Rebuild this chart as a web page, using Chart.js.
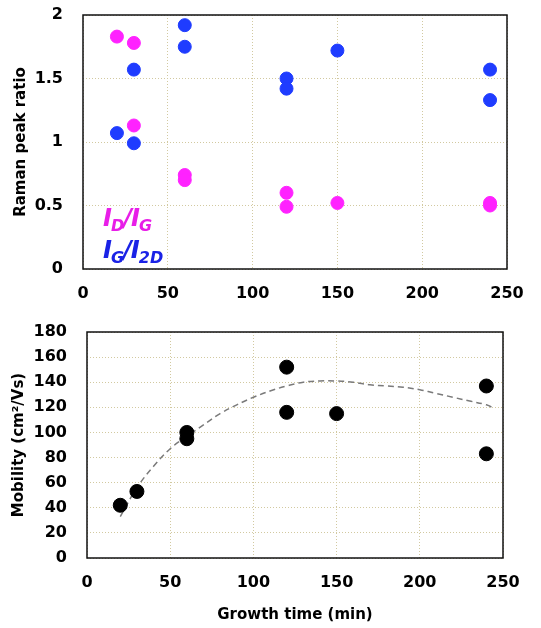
<!DOCTYPE html>
<html>
<head>
<meta charset="utf-8">
<script src="https://cdn.jsdelivr.net/npm/chart.js@4.4.0/dist/chart.umd.min.js"></script>
<style>
  body { margin: 0; background: #fff; }
  #top { position: absolute; left: 0; top: 0; width: 541px; height: 305px; }
  #bot { position: absolute; left: 0; top: 305px; width: 541px; height: 323px; }
</style>
</head>
<body>
<div id="top"><canvas id="ramanChart"></canvas></div>
<div id="bot"><canvas id="mobChart"></canvas></div>
<script>
// growth time (min) for each Raman measurement
const ramanTime = [20, 30, 30, 60, 60, 120, 120, 150, 240, 240];
const idIg = [1.83, 1.78, 1.13, 0.74, 0.70, 0.60, 0.49, 0.52, 0.52, 0.50];
const igI2d = [1.07, 0.99, 1.57, 1.92, 1.75, 1.50, 1.42, 1.72, 1.57, 1.33];

// mobility measurements
const mobTime = [20, 30, 60, 60, 120, 120, 150, 240, 240];
const mobility = [42, 53, 100, 95, 152, 116, 115, 137, 83];

// dashed trend line
const trendTime = [20, 30, 40, 50, 60, 70, 80, 90, 100, 110, 120, 130, 140, 150, 160, 170, 180, 190, 200, 210, 220, 230, 240, 245];
const trendMob = [33, 56, 73, 87, 97, 106, 115, 122, 128, 133, 137, 140, 141, 141, 140, 138, 137, 136, 134, 131, 128, 125, 122, 119];

const xTicks = [0, 50, 100, 150, 200, 250];

const FONT = "'DejaVu Sans', Verdana, sans-serif";
const gridColor = '#d2c9a0';

function pts(xs, ys) {
    return xs.map((x, i) => ({ x: x, y: ys[i] }));
}

// box around the plot area
const frame = {
    id: 'frame',
    beforeDatasetsDraw(chart) {
        const a = chart.chartArea;
        const ctx = chart.ctx;
        ctx.save();
        ctx.strokeStyle = '#111';
        ctx.lineWidth = 1.5;
        ctx.strokeRect(a.left, a.top, a.right - a.left, a.bottom - a.top);
        ctx.restore();
    }
};

// I_D/I_G and I_G/I_2D written inside the top plot
function drawRatio(ctx, x, y, parts, color) {
    ctx.fillStyle = color;
    parts.forEach(p => {
        if (p.sub) {
            ctx.font = "italic bold 16px " + FONT;
            ctx.fillText(p.t, x, y + 5);
        } else {
            ctx.font = "italic bold 24px " + FONT;
            ctx.fillText(p.t, x, y);
        }
        x += ctx.measureText(p.t).width - 1;
    });
}

const ratioLabels = {
    id: 'ratioLabels',
    afterDraw(chart) {
        const ctx = chart.ctx;
        ctx.save();
        ctx.textBaseline = 'alphabetic';
        drawRatio(ctx, 103, 226, [{ t: 'I' }, { t: 'D', sub: true }, { t: '/' }, { t: 'I' }, { t: 'G', sub: true }], '#e81ee8');
        drawRatio(ctx, 103, 258, [{ t: 'I' }, { t: 'G', sub: true }, { t: '/' }, { t: 'I' }, { t: '2D', sub: true }], '#1a22e6');
        ctx.restore();
    }
};

function xScale(height, title) {
    return {
        type: 'linear',
        min: 0,
        max: 250,
        afterBuildTicks: s => { s.ticks = xTicks.map(v => ({ value: v })); },
        border: { display: false, dash: [1, 2] },
        grid: { color: gridColor, drawTicks: false },
        ticks: { padding: 15, color: '#000', font: { family: FONT, size: 16, weight: 'bold' } },
        title: title ? { display: true, text: title, color: '#000', padding: { top: 8 }, font: { family: FONT, size: 15, weight: 'bold' } } : { display: false },
        afterFit: s => {
            s.height = height;
            s.paddingLeft = 0;
            s.paddingRight = 0;
        }
    };
}

function yScale(width, min, max, step, title) {
    return {
        type: 'linear',
        min: min,
        max: max,
        border: { display: false, dash: [1, 2] },
        grid: { color: gridColor, drawTicks: false },
        ticks: {
            stepSize: step,
            padding: 20,
            color: '#000',
            font: { family: FONT, size: 16, weight: 'bold' },
            callback: v => String(v)
        },
        title: { display: true, text: title, color: '#000', padding: 0, font: { family: FONT, size: 15, weight: 'bold' } },
        afterFit: s => {
            s.width = width;
            s.paddingTop = 0;
            s.paddingBottom = 0;
        }
    };
}

new Chart(document.getElementById('ramanChart').getContext('2d'), {
    type: 'scatter',
    data: {
        datasets: [{
            label: 'ID/IG',
            data: pts(ramanTime, idIg),
            backgroundColor: '#ff22ff',
            borderColor: '#ff22ff',
            pointRadius: 6.5
        }, {
            label: 'IG/I2D',
            data: pts(ramanTime, igI2d),
            backgroundColor: '#1f3cff',
            borderColor: '#1f3cff',
            pointRadius: 6.5
        }]
    },
    options: {
        responsive: true,
        maintainAspectRatio: false,
        animation: false,
        layout: { padding: { left: 12, right: 34, top: 15, bottom: 0 } },
        plugins: { legend: { display: false }, tooltip: { enabled: false } },
        scales: {
            x: xScale(36, null),
            y: yScale(71, 0, 2, 0.5, 'Raman peak ratio')
        }
    },
    plugins: [frame, ratioLabels]
});

new Chart(document.getElementById('mobChart').getContext('2d'), {
    type: 'scatter',
    data: {
        datasets: [{
            label: 'Mobility',
            data: pts(mobTime, mobility),
            backgroundColor: '#000',
            borderColor: '#000',
            pointRadius: 7
        }, {
            label: 'Trend',
            type: 'line',
            data: pts(trendTime, trendMob),
            borderColor: '#7a7a7a',
            borderWidth: 1.5,
            borderDash: [6, 4],
            pointRadius: 0,
            tension: 0.4,
            fill: false
        }]
    },
    options: {
        responsive: true,
        maintainAspectRatio: false,
        animation: false,
        layout: { padding: { left: 10, right: 38, top: 27, bottom: 0 } },
        plugins: { legend: { display: false }, tooltip: { enabled: false } },
        scales: {
            x: xScale(70, 'Growth time (min)'),
            y: yScale(77, 0, 180, 20, 'Mobility (cm\u00b2/Vs)')
        }
    },
    plugins: [frame]
});
</script>
</body>
</html>
